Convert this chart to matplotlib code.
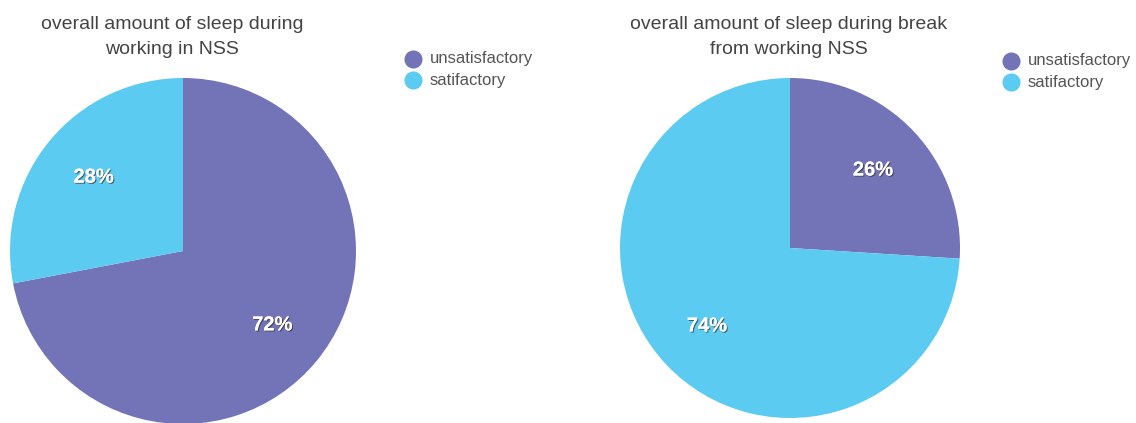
import matplotlib
matplotlib.use("Agg")
import matplotlib.pyplot as plt
import matplotlib.patheffects as pe
from matplotlib.lines import Line2D

categories = ["unsatisfactory", "satifactory"]
left_values = [72, 28]
right_values = [26, 74]
left_title = "overall amount of sleep during\nworking in NSS"
right_title = "overall amount of sleep during break\nfrom working NSS"
colors = ["#7373B8", "#5BCBF1"]

W, H = 1136, 423
fig = plt.figure(figsize=(W / 100, H / 100), dpi=100)
plt.rcParams['font.family'] = ['Liberation Sans', 'DejaVu Sans']


def px_axes(cx, cy, r):
    return fig.add_axes([(cx - r) / W, (H - cy - r) / H, 2 * r / W, 2 * r / H])


def draw_pie(ax, values):
    wedges, texts, autotexts = ax.pie(
        values, colors=colors, startangle=90, counterclock=False,
        autopct=lambda p: f"{p:.0f}%", pctdistance=0.67, radius=1,
        wedgeprops=dict(linewidth=0))
    for t in autotexts:
        t.set_color("white")
        t.set_fontsize(14.5)
        t.set_fontweight("bold")
        t.set_path_effects([pe.withSimplePatchShadow(offset=(0.8, -0.8), shadow_rgbFace="#333333", alpha=0.7),
                            pe.Normal()])
    ax.set_xlim(-1, 1)
    ax.set_ylim(-1, 1)
    ax.set_aspect("equal")
    ax.axis("off")


ax1 = px_axes(183, 251, 173)
draw_pie(ax1, left_values)
ax2 = px_axes(790, 248, 170)
draw_pie(ax2, right_values)

fig.text(172 / W, 1 - 37 / H, left_title, ha="center", va="center",
         fontsize=14, color="#444444", linespacing=1.6)
fig.text(789 / W, 1 - 37 / H, right_title, ha="center", va="center",
         fontsize=14, color="#444444", linespacing=1.6)


def legend_at(x_marker, y_top):
    for i, (lab, c) in enumerate(zip(categories, colors)):
        y = y_top + i * 21
        fig.add_artist(Line2D([x_marker / W], [1 - y / H], marker="o", markersize=12,
                              color=c, linestyle="none", transform=fig.transFigure))
        fig.text((x_marker + 17) / W, 1 - y / H, lab, ha="left", va="center",
                 fontsize=12, color="#555555")


legend_at(413, 59)
legend_at(1011, 61)

fig.savefig("out.png", dpi=100, facecolor="white")
